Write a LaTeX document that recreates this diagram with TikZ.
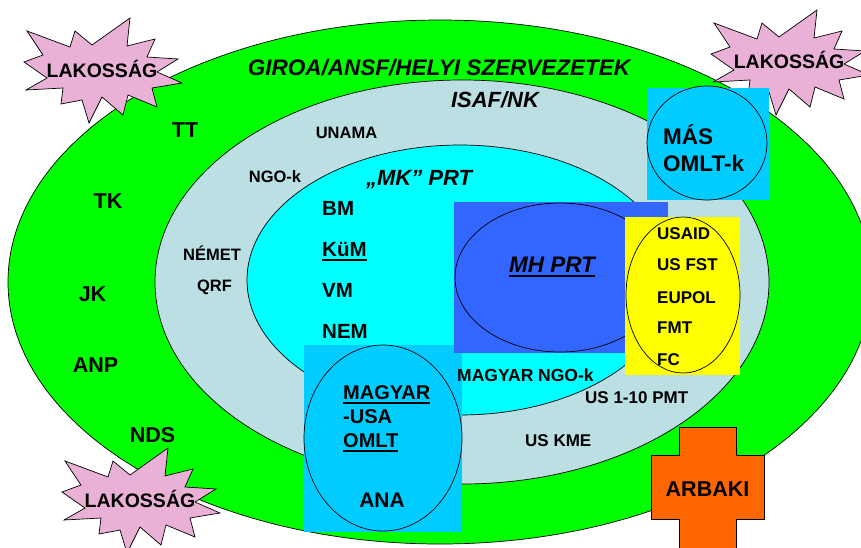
\documentclass[tikz,border=0pt]{standalone}
\usepackage{fontspec}
\setmainfont{Liberation Sans}
\usetikzlibrary{shapes.geometric}
\definecolor{cgreen}{RGB}{0,255,0}
\definecolor{cisaf}{RGB}{187,223,227}
\definecolor{ccyan}{RGB}{0,255,255}
\definecolor{cblue}{RGB}{51,102,255}
\definecolor{cyel}{RGB}{255,255,0}
\definecolor{csky}{RGB}{0,204,255}
\definecolor{corange}{RGB}{255,102,0}
\definecolor{cpink}{RGB}{234,177,214}
\newcommand\myfs[1]{\fontsize{#1}{#1}\selectfont}
\newcommand\myul[1]{\setbox0\hbox{#1}\rlap{\rule[-4.5pt]{\wd0}{1.8pt}}\box0}
\newcommand\mystar[1]{%
  \begin{scope}[shift={#1}]
  \draw[starsty] (-76,-39) -- (-33,-23) -- (-28,-39) -- (-11,-25) -- (27,-52) -- (24,-24) -- (52,-31) -- (44,-13) -- (75,-11) -- (54,2) -- (79,13) -- (49,18) -- (54,37) -- (25,25) -- (20,45) -- (-1,27) -- (-14,53) -- (-21,30) -- (-42,34) -- (-40,18) -- (-77,20) -- (-56,8) -- (-79,-8) -- (-60,-15) -- cycle;
  \end{scope}}
\begin{document}
\begin{tikzpicture}[x=1pt,y=-1pt,
  oval/.style={ellipse, draw=black, line width=0.7pt, inner sep=0pt},
  box/.style={rectangle, inner sep=0pt, draw=none},
  txt/.style={inner sep=0pt, font=\bfseries\myfs{#1}}, txt/.default=17,
  itxt/.style={inner sep=0pt, font=\bfseries\itshape\myfs{#1}}, itxt/.default=21,
  starsty/.style={draw=black, line width=0.7pt, fill=cpink}]
\clip (0,0) rectangle (861,547);
% nested ellipses
\node[oval, fill=cgreen, minimum width=864pt, minimum height=524pt] (giroa) at (440,282) {};
\node[oval, fill=cisaf, minimum width=614pt, minimum height=404pt] (isaf) at (462,282) {};
\node[oval, fill=ccyan, minimum width=426pt, minimum height=270pt] (mk) at (460,280) {};
% starbursts
\mystar{(103,70)}
\mystar{(790,62)}
\mystar{(141,500)}
% MAGYAR-USA box
\node[box, fill=csky, minimum width=158pt, minimum height=187pt] (magyarbox) at (383,438.5) {};
\node[oval, fill=csky, minimum width=158pt, minimum height=186pt] (magyaroval) at (383,438) {};
% MH PRT box
\node[box, fill=cblue, minimum width=214pt, minimum height=151pt] (mhbox) at (561,277.5) {};
\node[oval, fill=cblue, minimum width=210pt, minimum height=149pt] (mhoval) at (560,277.5) {};
% yellow box
\node[box, fill=cyel, minimum width=115pt, minimum height=158pt] (yelbox) at (682.5,296) {};
\node[oval, fill=cyel, minimum width=114pt, minimum height=156pt] (yeloval) at (683,295) {};
% MAS box
\node[box, fill=csky, minimum width=122pt, minimum height=112pt] (masbox) at (708,144) {};
\node[oval, fill=csky, minimum width=120pt, minimum height=114pt] (masoval) at (707,143) {};
% ARBAKI cross
\draw[fill=corange, draw=black, line width=0.7pt] (679,427) -- (736,427) -- (736,455) -- (764,455) -- (764,519) -- (736,519) -- (736,560) -- (679,560) -- (679,519) -- (651,519) -- (651,455) -- (679,455) -- cycle;
% texts
\node[itxt=22.5, anchor=base] (tgiroa) at (439,75) {GIROA/ANSF/HELYI SZERVEZETEK};
\node[itxt=22, anchor=base] (tisaf) at (495,107) {ISAF/NK};
\node[txt=19.5, anchor=base] (lakA) at (102,77) {LAKOSSÁG};
\node[txt=19.5, anchor=base] (lakB) at (789,68) {LAKOSSÁG};
\node[txt=19.5, anchor=base] (lakC) at (140,507) {LAKOSSÁG};
\node[txt=21.5, anchor=base] (tt) at (185,137) {TT};
\node[txt=21.5, anchor=base] (tk) at (108,208) {TK};
\node[txt=21.5, anchor=base] (jk) at (92.5,301) {JK};
\node[txt=21.5, anchor=base] (anp) at (95.5,372) {ANP};
\node[txt=21.5, anchor=base] (nds) at (152.5,442) {NDS};
\node[txt=16.5, anchor=base] (unama) at (346.5,138) {UNAMA};
\node[txt=16.5, anchor=base] (ngok) at (275,182) {NGO-k};
\node[txt=16.5, anchor=base] (nemet) at (212,260) {NÉMET};
\node[txt=16.5, anchor=base] (qrf) at (214.5,291) {QRF};
\node[itxt=22, anchor=base] (mkprt) at (419,185) {„MK” PRT};
\node[txt=20.5, anchor=base west] (bm) at (322,215) {BM};
\node[txt=20.5, anchor=base west] (kum) at (322,256) {\myul{KüM}};
\node[txt=20.5, anchor=base west] (vm) at (322,297) {VM};
\node[txt=20.5, anchor=base west] (nem) at (322,338) {NEM};
\node[itxt=22.5, anchor=base] (mhprt) at (552,272) {\myul{MH PRT}};
\node[txt=17, anchor=base west] (usaid) at (657,239) {USAID};
\node[txt=17, anchor=base west] (usfst) at (657,270) {US FST};
\node[txt=17, anchor=base west] (eupol) at (657,303) {EUPOL};
\node[txt=17, anchor=base west] (fmt) at (657,333) {FMT};
\node[txt=17, anchor=base west] (fc) at (657,365) {FC};
\node[txt=22.5, anchor=base west] (mas) at (663,144) {MÁS};
\node[txt=22.5, anchor=base west] (omltk) at (663,171) {OMLT-k};
\node[txt=17.5, anchor=base west] (magyarngo) at (457,381) {MAGYAR NGO-k};
\node[txt=17, anchor=base west] (uspmt) at (585,403) {US 1-10 PMT};
\node[txt=17, anchor=base west] (uskme) at (525,446) {US KME};
\node[txt=20, anchor=base west] (magyar) at (343,399) {\myul{MAGYAR}};
\node[txt=20, anchor=base west] (usa) at (343,423) {-USA};
\node[txt=20, anchor=base west] (omlt) at (343,447) {\myul{OMLT}};
\node[txt=21, anchor=base] (ana) at (382,507) {ANA};
\node[txt=21.5, anchor=base] (arbaki) at (707.5,496) {ARBAKI};
\end{tikzpicture}
\end{document}
